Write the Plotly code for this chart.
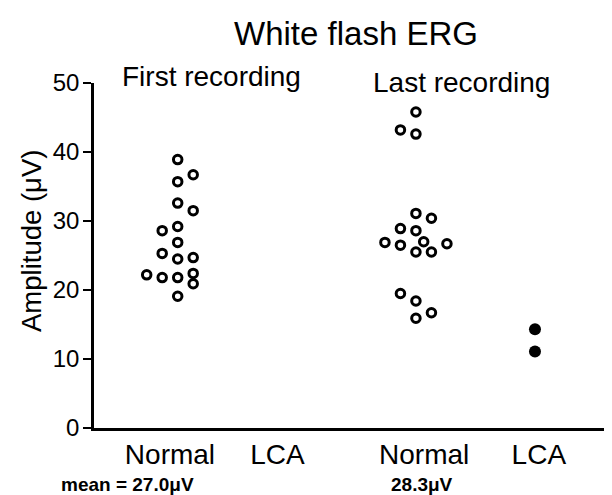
import plotly.graph_objects as go

# ---- data ----
categories = ["Normal", "LCA", "Normal", "LCA"]
first_normal = [38.9, 36.7, 35.7, 32.6, 31.5, 29.2, 28.6, 26.9, 25.3, 24.5, 24.7,
                22.2, 21.8, 21.8, 22.4, 20.9, 19.1]
first_normal_col = [0, 1, 0, 0, 1, 0, -1, 0, -1, 0, 1, -2, -1, 0, 1, 1, 0]
last_normal = [45.8, 43.2, 42.6, 31.1, 30.4, 28.9, 28.6, 26.9, 26.5, 27.0, 25.5,
               25.5, 26.7, 19.5, 18.4, 15.9, 16.7]
last_normal_col = [0, -1, 0, 0, 1, -1, 0, -2, -1, 0.5, 0, 1, 2, -1, 0, 0, 1]
last_lca = [14.3, 11.1]
last_lca_col = [0, 0]
mean_labels = ["mean = 27.0\u03bcV", "28.3\u03bcV"]
y_ticks = [0, 10, 20, 30, 40, 50]

# group centres along the x axis (units = one dot column)
group_x = [5.4, 11.84, 20.77, 28.45]
label_x = [4.9, 11.84, 21.3, 28.7]

FONT = "Liberation Sans, Arial, Helvetica, sans-serif"

# the page body has an 8px default margin, so the figure is laid out 8px up/left
OFF = 8
W, H = 612, 495
L, T = 94 - OFF, 83 - OFF
R = W - (612 - OFF)
B = H - (428 - OFF)
PW = W - L - R
PH = H - T - B


def px(x):  # target screen x -> paper x
    return (x - OFF - L) / PW


def py(y):  # target screen y -> paper y
    return (H - B - (y - OFF)) / PH


fig = go.Figure()
fig.add_trace(go.Scatter(
    x=[group_x[0] + c for c in first_normal_col], y=first_normal, mode="markers",
    marker=dict(symbol="circle-open", size=8.5, color="black", line=dict(width=3, color="black")),
    showlegend=False, cliponaxis=False))
fig.add_trace(go.Scatter(
    x=[group_x[2] + c for c in last_normal_col], y=last_normal, mode="markers",
    marker=dict(symbol="circle-open", size=8.5, color="black", line=dict(width=3, color="black")),
    showlegend=False, cliponaxis=False))
fig.add_trace(go.Scatter(
    x=[group_x[3] + c for c in last_lca_col], y=last_lca, mode="markers",
    marker=dict(symbol="circle", size=12, color="black", line=dict(width=0)),
    showlegend=False, cliponaxis=False))

fig.update_layout(
    width=W, height=H,
    margin=dict(l=L, r=R, t=T, b=B),
    paper_bgcolor="white", plot_bgcolor="white",
    font=dict(family=FONT, color="black"),
    title=dict(text="White flash ERG", x=(356 - OFF) / W, xref="container", xanchor="center",
               y=1 - (33 - OFF) / H, yref="container", yanchor="middle",
               font=dict(size=33, family=FONT, color="black")),
    xaxis=dict(range=[0, PW / 15.5], showgrid=False, zeroline=False,
               showline=True, linecolor="black", linewidth=2.5,
               tickmode="array", tickvals=label_x, ticktext=categories,
               ticks="", tickfont=dict(size=28, family=FONT, color="black")),
    yaxis=dict(range=[0, 50], showgrid=False, zeroline=False,
               showline=True, linecolor="black", linewidth=2.5,
               tickmode="array", tickvals=y_ticks,
               ticks="outside", ticklen=8, tickwidth=2, tickcolor="black",
               ticklabelstandoff=-1,
               tickfont=dict(size=24, family=FONT, color="black")),
)

annotations = [
    dict(text="Amplitude (\u03bcV)", textangle=-90, xref="paper", yref="paper",
         x=px(32), y=py(241), xanchor="center", yanchor="middle",
         showarrow=False, font=dict(size=27.5, family=FONT, color="black")),
    dict(text="First recording", xref="paper", yref="paper",
         x=px(211), y=py(76), xanchor="center", yanchor="middle",
         showarrow=False, font=dict(size=28, family=FONT, color="black")),
    dict(text="Last recording", xref="paper", yref="paper",
         x=px(461), y=py(82.5), xanchor="center", yanchor="middle",
         showarrow=False, font=dict(size=28, family=FONT, color="black")),
    dict(text="<b>" + mean_labels[0] + "</b>", xref="paper", yref="paper",
         x=px(196), y=py(484), xanchor="right", yanchor="middle",
         showarrow=False, font=dict(size=19, family=FONT, color="black")),
    dict(text="<b>" + mean_labels[1] + "</b>", xref="paper", yref="paper",
         x=px(422), y=py(484), xanchor="center", yanchor="middle",
         showarrow=False, font=dict(size=19, family=FONT, color="black")),
]
fig.update_layout(annotations=annotations)

fig.write_html("out.html")
